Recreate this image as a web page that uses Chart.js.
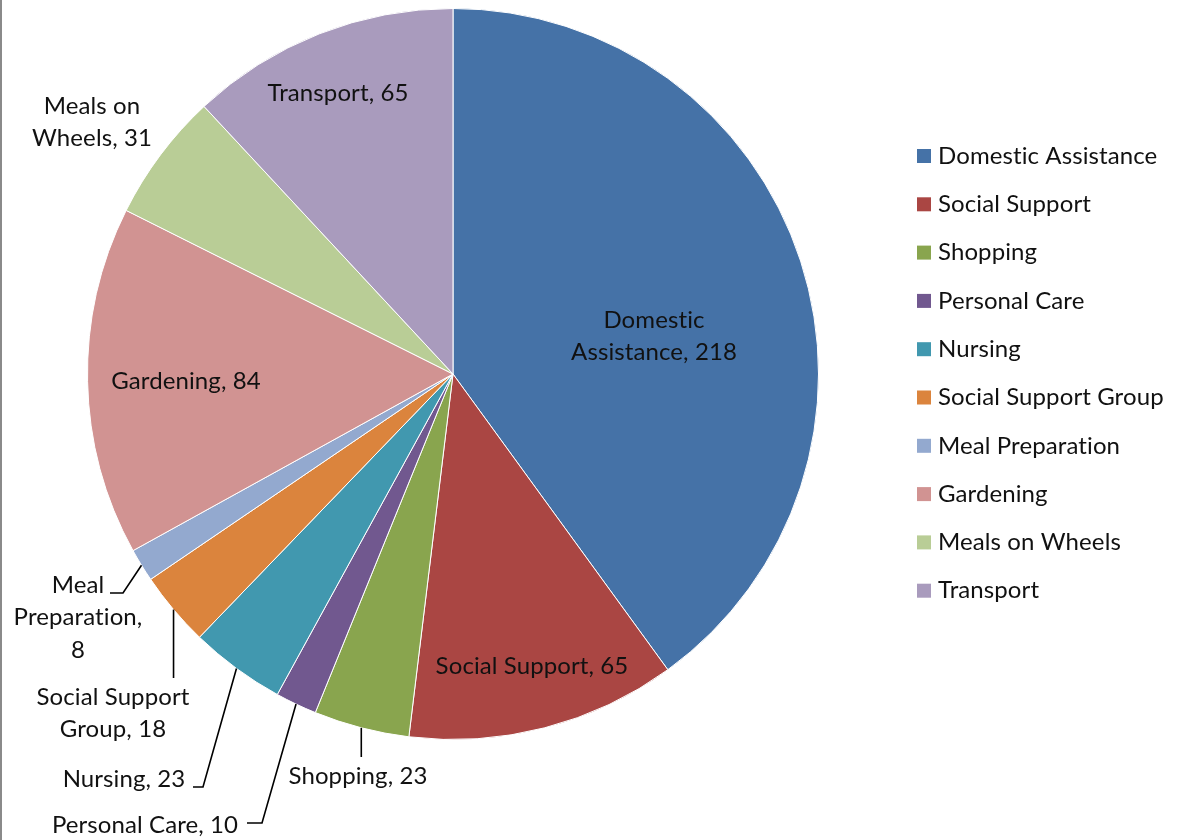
<!DOCTYPE html>
<html>
<head>
<meta charset="utf-8">
<title>Services</title>
<script src="https://cdn.jsdelivr.net/npm/chart.js@4.4.1/dist/chart.umd.min.js"></script>
<style>
  html, body { margin: 0; padding: 0; background: #fff; }
  #wrap { width: 1177px; height: 840px; position: relative; }
</style>
</head>
<body>
<div id="wrap"><canvas id="pieChart" width="1177" height="840"></canvas></div>
<script>
// chart data
const categories = [
  "Domestic Assistance", "Social Support", "Shopping", "Personal Care", "Nursing",
  "Social Support Group", "Meal Preparation", "Gardening", "Meals on Wheels", "Transport"
];
const counts = [218, 65, 23, 10, 23, 18, 8, 84, 31, 65];
const sliceColors = [
  "#4572A7", "#AA4643", "#89A54E", "#71588F", "#4198AF",
  "#DB843D", "#93A9CF", "#D19392", "#B9CD96", "#A99BBD"
];

// where each data label goes (centre of first line), how its words split into lines,
// and the bend points of the leader line for the outside ones
const labelLayout = [
  { x: 654, y: 320, words: [1, 2] },
  { x: 532, y: 666, words: [3] },
  { x: 358, y: 776, words: [2], leader: [[null, 757]] },
  { x: 145, y: 825, words: [3], leader: [[262, 823], [247, 823]] },
  { x: 124, y: 779, words: [2], leader: [[203, 787], [193, 787]] },
  { x: 113, y: 697, words: [2, 2], leader: [[null, 678]] },
  { x: 78, y: 585, words: [1, 1, 1], leader: [[123, 593], [110, 593]] },
  { x: 186, y: 381, words: [2] },
  { x: 92, y: 106, words: [2, 2] },
  { x: 338, y: 93, words: [2] }
];

const FONT = "24px Lato";
const LINE_H = 32.5;
const TEXT_COLOR = "#111";

// draws the data labels and their leader lines
const pieLabels = {
  id: "pieLabels",
  afterDatasetsDraw(chart) {
    const ctx = chart.ctx;
    const meta = chart.getDatasetMeta(0);
    const values = chart.data.datasets[0].data;
    ctx.save();
    ctx.font = FONT;
    ctx.letterSpacing = "0.1px";
    ctx.fillStyle = TEXT_COLOR;
    ctx.textAlign = "center";
    ctx.textBaseline = "middle";
    meta.data.forEach((arc, i) => {
      const lay = labelLayout[i];
      const words = (chart.data.labels[i] + ", " + values[i]).split(" ");
      let k = 0;
      lay.words.forEach((n, li) => {
        ctx.fillText(words.slice(k, k + n).join(" "), lay.x, lay.y + li * LINE_H);
        k += n;
      });
      if (lay.leader) {
        const mid = (arc.startAngle + arc.endAngle) / 2;
        const sx = arc.x + Math.cos(mid) * arc.outerRadius;
        const sy = arc.y + Math.sin(mid) * arc.outerRadius;
        ctx.beginPath();
        ctx.strokeStyle = "#000";
        ctx.lineWidth = 1.6;
        ctx.moveTo(sx, sy);
        lay.leader.forEach(p => ctx.lineTo(p[0] === null ? sx : p[0], p[1]));
        ctx.stroke();
      }
    });
    ctx.restore();
  }
};

// legend on the right, squares and names
const sideLegend = {
  id: "sideLegend",
  afterDraw(chart) {
    const ctx = chart.ctx;
    const colors = chart.data.datasets[0].backgroundColor;
    ctx.save();
    ctx.font = FONT;
    ctx.letterSpacing = "0.1px";
    ctx.textAlign = "left";
    ctx.textBaseline = "middle";
    chart.data.labels.forEach((name, i) => {
      const y = 156 + i * 48.3;
      ctx.fillStyle = colors[i];
      ctx.fillRect(917, y - 7, 14, 14);
      ctx.fillStyle = TEXT_COLOR;
      ctx.fillText(name, 938, y);
    });
    // frame edge on the left
    ctx.fillStyle = "#8a8a8a";
    ctx.fillRect(0, 0, 2, chart.height);
    ctx.restore();
  }
};

function draw() {
  new Chart(document.getElementById("pieChart"), {
    type: "pie",
    data: {
      labels: categories,
      datasets: [{
        data: counts,
        backgroundColor: sliceColors,
        borderColor: "#ffffff",
        borderWidth: 1
      }]
    },
    options: {
      responsive: false,
      animation: false,
      layout: { padding: { left: 87, right: 358, top: 8, bottom: 100 } },
      plugins: {
        legend: { display: false },
        tooltip: { enabled: false }
      }
    },
    plugins: [pieLabels, sideLegend]
  });
}

if (document.fonts && document.fonts.load) {
  document.fonts.load(FONT).then(draw, draw);
} else {
  draw();
}
</script>
</body>
</html>
